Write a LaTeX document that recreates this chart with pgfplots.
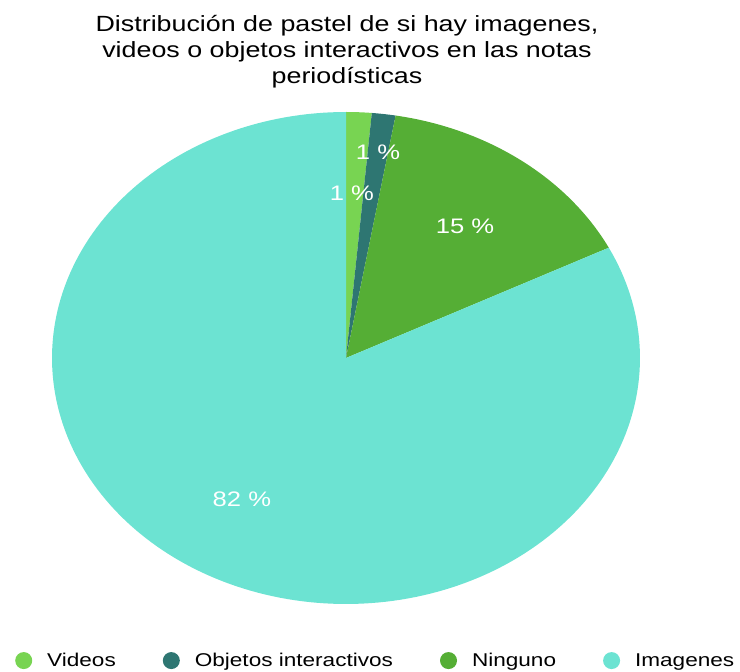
\documentclass[border=0pt]{standalone}
\usepackage{fontspec}
\setmainfont[FakeStretch=1.22]{Liberation Sans}
\usepackage{pgfplots}
\pgfplotsset{compat=1.18}
\definecolor{cVid}{HTML}{78D452}
\definecolor{cObj}{HTML}{2E7672}
\definecolor{cNin}{HTML}{55AE35}
\definecolor{cImg}{HTML}{6CE3D2}
% shares (percent)
\def\vVid{1.4}
\def\vObj{1.3}
\def\vNin{14.9}
\def\vImg{82.4}
\begin{document}
\begin{tikzpicture}[x=1pt,y=1pt]
\useasboundingbox (0,0) rectangle (740,672);
\pgfmathsetmacro{\aA}{0}
\pgfmathsetmacro{\aB}{\aA+3.6*\vVid}
\pgfmathsetmacro{\aC}{\aB+3.6*\vObj}
\pgfmathsetmacro{\aD}{\aC+3.6*\vNin}
\pgfmathsetmacro{\aE}{\aD+3.6*\vImg}
\begin{axis}[
  at={(346pt,314pt)}, anchor=center,
  scale only axis, width=588pt, height=492pt,
  xmin=-1, xmax=1, ymin=-1, ymax=1,
  axis lines=none, ticks=none, clip=false,
  legend columns=4,
  legend style={draw=none, fill=none, at={(-0.068,-0.115)}, anchor=west,
    font=\fontsize{18.5}{22}\selectfont,
    /tikz/every even column/.append style={column sep=45pt}},
  legend image code/.code={\path[draw=none,fill=none] (-8.5pt,-8.5pt) rectangle (21.5pt,8.5pt);\fill[#1] (0pt,0pt) circle (8.5pt);},
]
\addplot[fill=cVid, draw=none, domain=\aA:\aB, samples=8] ({sin(x)},{cos(x)}) -- (axis cs:0,0) -- cycle;
\addlegendentry{Videos}
\addplot[fill=cObj, draw=none, domain=\aB:\aC, samples=8] ({sin(x)},{cos(x)}) -- (axis cs:0,0) -- cycle;
\addlegendentry{Objetos interactivos}
\addplot[fill=cNin, draw=none, domain=\aC:\aD, samples=60] ({sin(x)},{cos(x)}) -- (axis cs:0,0) -- cycle;
\addlegendentry{Ninguno}
\addplot[fill=cImg, draw=none, domain=\aD:\aE, samples=200] ({sin(x)},{cos(x)}) -- (axis cs:0,0) -- cycle;
\addlegendentry{Imagenes}
\node[white, font=\fontsize{21}{24}\selectfont] at (axis cs:0.109,0.837) {1 \%};
\node[white, font=\fontsize{21}{24}\selectfont] at (axis cs:0.020,0.671) {1 \%};
\node[white, font=\fontsize{21}{24}\selectfont] at (axis cs:0.405,0.537) {15 \%};
\node[white, font=\fontsize{21}{24}\selectfont] at (axis cs:-0.354,-0.573) {82 \%};
\end{axis}
\node[align=center, font=\fontsize{22}{26}\selectfont] at (347,620)
  {Distribución de pastel de si hay imagenes,\\ videos o objetos interactivos en las notas\\ periodísticas};
\end{tikzpicture}
\end{document}
